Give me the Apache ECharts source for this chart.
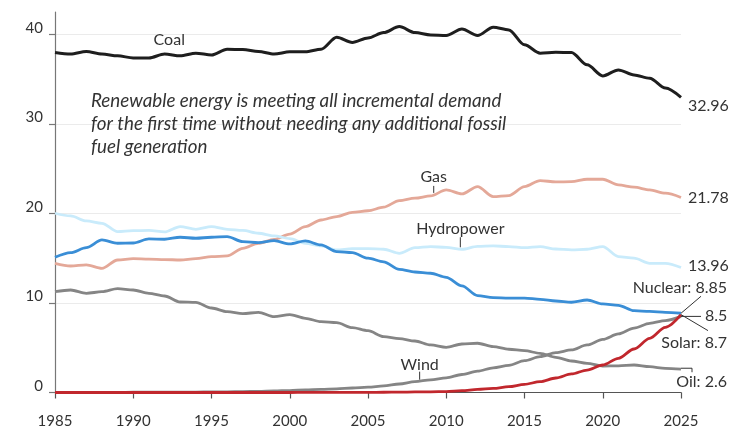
<!DOCTYPE html>
<html>
<head>
<meta charset="utf-8">
<script src="https://cdn.jsdelivr.net/npm/echarts@6/dist/echarts.min.js"></script>
<style>
html,body{margin:0;padding:0;background:#fff;}
#chart{width:748px;height:435px;}
</style>
</head>
<body>
<div id="chart"></div>
<script>
var years = [];
for (var yr = 1985; yr <= 2025; yr++) years.push(yr);

var coal = [37.97,37.8,38.08,37.8,37.6,37.37,37.37,37.8,37.6,37.9,37.7,38.35,38.3,38.1,37.8,38.05,38.05,38.35,39.69,39.1,39.6,40.2,40.87,40.2,39.94,39.87,40.6,39.87,40.8,40.5,38.83,37.9,38.0,37.97,36.6,35.36,36.03,35.47,35.1,34.0,32.96];
var gas = [14.43,14.13,14.25,13.87,14.8,14.95,14.9,14.85,14.8,14.95,15.18,15.25,16.1,16.67,17.1,17.7,18.53,19.27,19.65,20.13,20.3,20.7,21.43,21.7,21.96,22.63,22.18,23.0,21.88,22.0,23.0,23.67,23.52,23.55,23.82,23.82,23.18,22.93,22.63,22.26,21.78];
var hydro = [20.02,19.72,19.16,18.9,17.97,18.08,18.1,17.93,18.53,18.23,18.53,18.23,18.1,17.79,17.49,17.19,16.67,16.37,15.92,16.07,16.07,16.0,15.55,16.18,16.3,16.2,16.0,16.33,16.37,16.3,16.18,16.3,16.03,15.92,16.0,16.3,15.18,15.0,14.43,14.43,13.96];
var nuclear = [15.1,15.62,16.18,17.04,16.67,16.7,17.15,17.12,17.34,17.23,17.34,17.41,16.85,16.74,16.96,16.59,16.93,16.48,15.73,15.62,15.0,14.6,13.76,13.46,13.32,12.87,11.9,10.82,10.6,10.55,10.55,10.41,10.22,10.08,10.33,9.89,9.74,9.14,9.06,8.96,8.85];
var oil = [11.26,11.45,11.08,11.26,11.6,11.45,11.08,10.78,10.11,10.07,9.44,9.03,8.8,8.96,8.47,8.7,8.29,7.91,7.8,7.24,6.9,6.24,6.02,5.75,5.31,5.05,5.42,5.5,5.12,4.83,4.67,4.38,3.93,3.52,3.26,2.96,2.98,3.07,2.88,2.7,2.6];
var wind = [0.0,0.01,0.01,0.02,0.02,0.03,0.03,0.04,0.04,0.05,0.06,0.08,0.1,0.13,0.17,0.22,0.28,0.34,0.4,0.5,0.6,0.73,0.95,1.21,1.42,1.64,2.01,2.38,2.76,3.02,3.55,4.0,4.45,4.75,5.31,5.94,6.54,7.2,7.73,8.03,8.5];
var solar = [0,0,0,0,0,0,0,0,0,0,0,0,0,0,0,0,0.01,0.01,0.01,0.02,0.02,0.03,0.04,0.06,0.08,0.1,0.2,0.35,0.46,0.65,0.91,1.21,1.62,2.07,2.51,3.07,3.82,4.86,6.05,7.28,8.7];

var xTicks = [1985,1990,1995,2000,2005,2010,2015,2020,2025];
var yTicks = [0,10,20,30,40];

var annotationLines = [
  'Renewable energy is meeting all incremental demand',
  'for the first time without needing any additional fossil',
  'fuel generation'
];

var FONT = 'Lato, "Noto Sans", sans-serif';
var TXT = '#333333';

function pairs(arr){ return years.map(function(y,i){ return [y, arr[i]]; }); }

var seriesDefs = [
  {name:'Coal', data:coal, color:'#1e1e1e', w:3},
  {name:'Gas', data:gas, color:'#e4a898', w:2.8},
  {name:'Hydropower', data:hydro, color:'#c9ebfb', w:2.8},
  {name:'Nuclear', data:nuclear, color:'#3a8ed6', w:2.8},
  {name:'Oil', data:oil, color:'#858585', w:2.8},
  {name:'Wind', data:wind, color:'#858585', w:2.8},
  {name:'Solar', data:solar, color:'#c1272d', w:2.8}
];

var chart = echarts.init(document.getElementById('chart'), null, {renderer:'canvas'});

var option = {
  animation:false,
  backgroundColor:'#ffffff',
  grid:{left:55, right:67, top:12, bottom:42.5},
  xAxis:{
    type:'value', min:xTicks[0], max:xTicks[xTicks.length-1], interval:5,
    axisLine:{show:true, lineStyle:{color:'#555', width:1.2}},
    axisTick:{show:true, length:6, lineStyle:{color:'#555', width:1.2}},
    axisLabel:{color:TXT, fontFamily:FONT, fontSize:15, margin:21, formatter:function(v){return String(v);}},
    splitLine:{show:false}
  },
  yAxis:{
    type:'value', min:0, max:42.5, interval:10,
    axisLine:{show:true, lineStyle:{color:'#777', width:1.2}},
    axisTick:{show:true, length:6, lineStyle:{color:'#777', width:1.2}},
    axisLabel:{color:TXT, fontFamily:FONT, fontSize:15, margin:12, showMaxLabel:false,
      verticalAlign:'bottom', lineHeight:13,
      formatter:function(v){ return yTicks.indexOf(v) >= 0 ? String(v) : ''; }},
    splitLine:{show:true, lineStyle:{color:['#ebebeb','#ebebeb','#ebebeb','#ebebeb','#ebebeb','rgba(0,0,0,0)'], width:1}}
  },
  series: seriesDefs.map(function(s){
    return {
      type:'line', name:s.name, data:pairs(s.data), showSymbol:false, symbol:'none',
      smooth:0.3, smoothMonotone:'x',
      lineStyle:{color:s.color, width:s.w}, itemStyle:{color:s.color},
      emphasis:{disabled:true}
    };
  })
};
chart.setOption(option);

function px(x, y){ return chart.convertToPixel({gridIndex:0}, [x, y]); }

var g = [];
function text(x, y, str, align, opts){
  opts = opts || {};
  g.push({type:'text', z:100, style:{x:x, y:y, text:str, fill:TXT, font:(opts.italic?'italic ':'') + (opts.size||16) + 'px ' + FONT, textAlign:align||'left', textVerticalAlign:'middle'}});
}
function line(x1,y1,x2,y2){
  g.push({type:'line', z:99, shape:{x1:x1,y1:y1,x2:x2,y2:y2}, style:{stroke:'#333', lineWidth:1}});
}
function polyline(pts){
  g.push({type:'polyline', z:99, shape:{points:pts}, style:{stroke:'#333', lineWidth:1, fill:null}});
}

var last = years.length - 1;
var xEnd = years[last];

// Coal label
var pc = px(1992.3, coal[7]);
text(pc[0], pc[1] - 14, 'Coal', 'center');

// Annotation
var pa = px(1987.3, 32.6);
annotationLines.forEach(function(t, i){ text(pa[0], pa[1] + i * 23, t, 'left', {italic:true, size:18.8}); });

// Gas label with leader
var pg = px(2009.2, gas[24]);
line(pg[0], pg[1] - 3, pg[0], pg[1] - 10);
text(pg[0], pg[1] - 19, 'Gas', 'center');

// Hydropower label with leader
var ph = px(2010.9, hydro[26]);
line(ph[0], ph[1] - 2, ph[0], ph[1] - 12);
text(ph[0], ph[1] - 20, 'Hydropower', 'center');

// Wind label with leader
var pw = px(2008.3, wind[23]);
line(pw[0], pw[1] - 2, pw[0], pw[1] - 10);
text(pw[0], pw[1] - 17, 'Wind', 'center');

// End labels
var eCoal = px(xEnd, coal[last]);
text(eCoal[0] + 7, eCoal[1] + 8, String(coal[last]), 'left');
var eGas = px(xEnd, gas[last]);
text(eGas[0] + 7, eGas[1] + 0.5, String(gas[last]), 'left');
var eHy = px(xEnd, hydro[last]);
text(eHy[0] + 7, eHy[1] - 2, String(hydro[last]), 'left');

var eNu = px(xEnd, nuclear[last]);
var eWi = px(xEnd, wind[last]);
var eSo = px(xEnd, solar[last]);
line(eNu[0], eNu[1], eNu[0] + 20, eNu[1] - 17);
text(eNu[0] + 46, eNu[1] - 25, 'Nuclear: ' + nuclear[last], 'right');
line(eWi[0], eWi[1], eWi[0] + 20, eWi[1]);
text(eWi[0] + 24, eWi[1] - 1, String(wind[last]), 'left');
line(eSo[0], eSo[1], eSo[0] + 27, eSo[1] + 16);
text(eSo[0] + 46, eSo[1] + 28, 'Solar: ' + solar[last], 'right');

var eOil = px(xEnd, oil[last]);
polyline([[eOil[0], eOil[1] - 1], [eOil[0] + 11, eOil[1] - 1], [eOil[0] + 11, eOil[1] + 3]]);
text(eOil[0] + 46, eOil[1] + 13, 'Oil: ' + oil[last], 'right');

chart.setOption({graphic:g});
</script>
</body>
</html>
